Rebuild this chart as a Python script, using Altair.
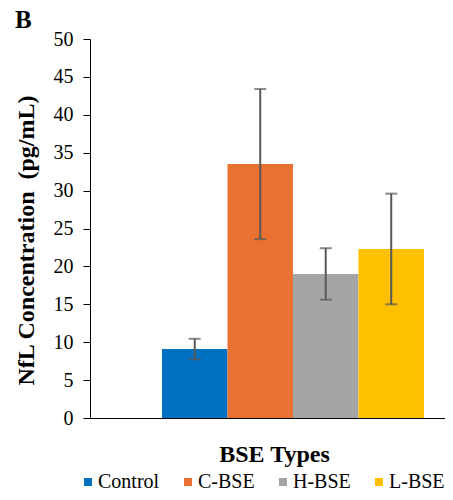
import altair as alt
import pandas as pd

categories = ["Control", "C-BSE", "H-BSE", "L-BSE"]
means = [9.1, 33.5, 19.0, 22.3]
errors = [1.35, 9.9, 3.4, 7.3]
colors = ["#0070C0", "#E97132", "#A5A5A5", "#FFC000"]
yticks = [0, 5, 10, 15, 20, 25, 30, 35, 40, 45, 50]

df = pd.DataFrame({
    "group": ["BSE Types"] * 4,
    "type": categories,
    "mean": means,
    "lo": [m - e for m, e in zip(means, errors)],
    "hi": [m + e for m, e in zip(means, errors)],
})

FONT = "Times New Roman, Liberation Serif, serif"

xaxis = alt.Axis(title="BSE Types", labels=False, ticks=False,
                 domainColor="black", titlePadding=24, titleX=184,
                 titleFont=FONT, titleFontSize=24, titleFontWeight="bold",
                 titleColor="black")
yaxis = alt.Axis(title="NfL Concentration\u00a0 (pg/mL)", values=yticks,
                 grid=False, domainColor="black", tickColor="black", tickSize=7,
                 labelFont=FONT, labelFontSize=20, labelColor="black", labelPadding=10,
                 titleFont=FONT, titleFontSize=24, titleFontWeight="bold",
                 titleColor="black", titlePadding=15, titleY=201)
xscale = alt.Scale(paddingInner=0, paddingOuter=0.1775, align=0.774)
offscale = alt.Scale(paddingInner=0, paddingOuter=0)
yscale = alt.Scale(domain=[0, 50])


def xenc():
    return alt.X("group:N", scale=xscale, axis=xaxis)


def xoff():
    return alt.XOffset("type:N", sort=categories, scale=offscale)


bars = alt.Chart(df).mark_bar().encode(
    x=xenc(),
    xOffset=xoff(),
    y=alt.Y("mean:Q", scale=yscale, axis=yaxis),
    color=alt.Color("type:N", sort=categories,
                    scale=alt.Scale(domain=categories, range=colors),
                    legend=alt.Legend(title=None, orient="none", direction="horizontal",
                                      legendX=-12, legendY=433, symbolType="square",
                                      symbolSize=64, symbolStrokeWidth=0,
                                      padding=0, gridAlign="none",
                                      labelFont=FONT, labelFontSize=20, labelColor="black",
                                      columnPadding=18, labelOffset=0)),
)

rules = alt.Chart(df).mark_rule(color="#595959", strokeWidth=2).encode(
    x=xenc(),
    xOffset=xoff(),
    y=alt.Y("lo:Q", scale=yscale, axis=yaxis),
    y2="hi:Q",
)

caps_lo = alt.Chart(df).mark_tick(color="#595959", size=12, thickness=2, orient="horizontal").encode(
    x=xenc(),
    xOffset=xoff(),
    y=alt.Y("lo:Q", scale=yscale, axis=yaxis),
)
caps_hi = alt.Chart(df).mark_tick(color="#595959", size=12, thickness=2, orient="horizontal").encode(
    x=xenc(),
    xOffset=xoff(),
    y=alt.Y("hi:Q", scale=yscale, axis=yaxis),
)

chart = alt.layer(bars, rules, caps_lo, caps_hi).properties(
    width=355, height=379,
    autosize=alt.AutoSizeParams(type="none"),
    padding={"left": 82, "top": 31, "right": 0, "bottom": 74},
    title=alt.TitleParams("B", anchor="start", frame="group", dx=-75, dy=6, offset=2,
                          font=FONT, fontSize=25, fontWeight="bold", color="black"),
).configure_view(stroke=None).configure_axis(
    labelFont=FONT, titleFont=FONT
).configure_legend(labelFont=FONT)

chart.save("out.html", embed_options={"renderer": "svg", "actions": False})
